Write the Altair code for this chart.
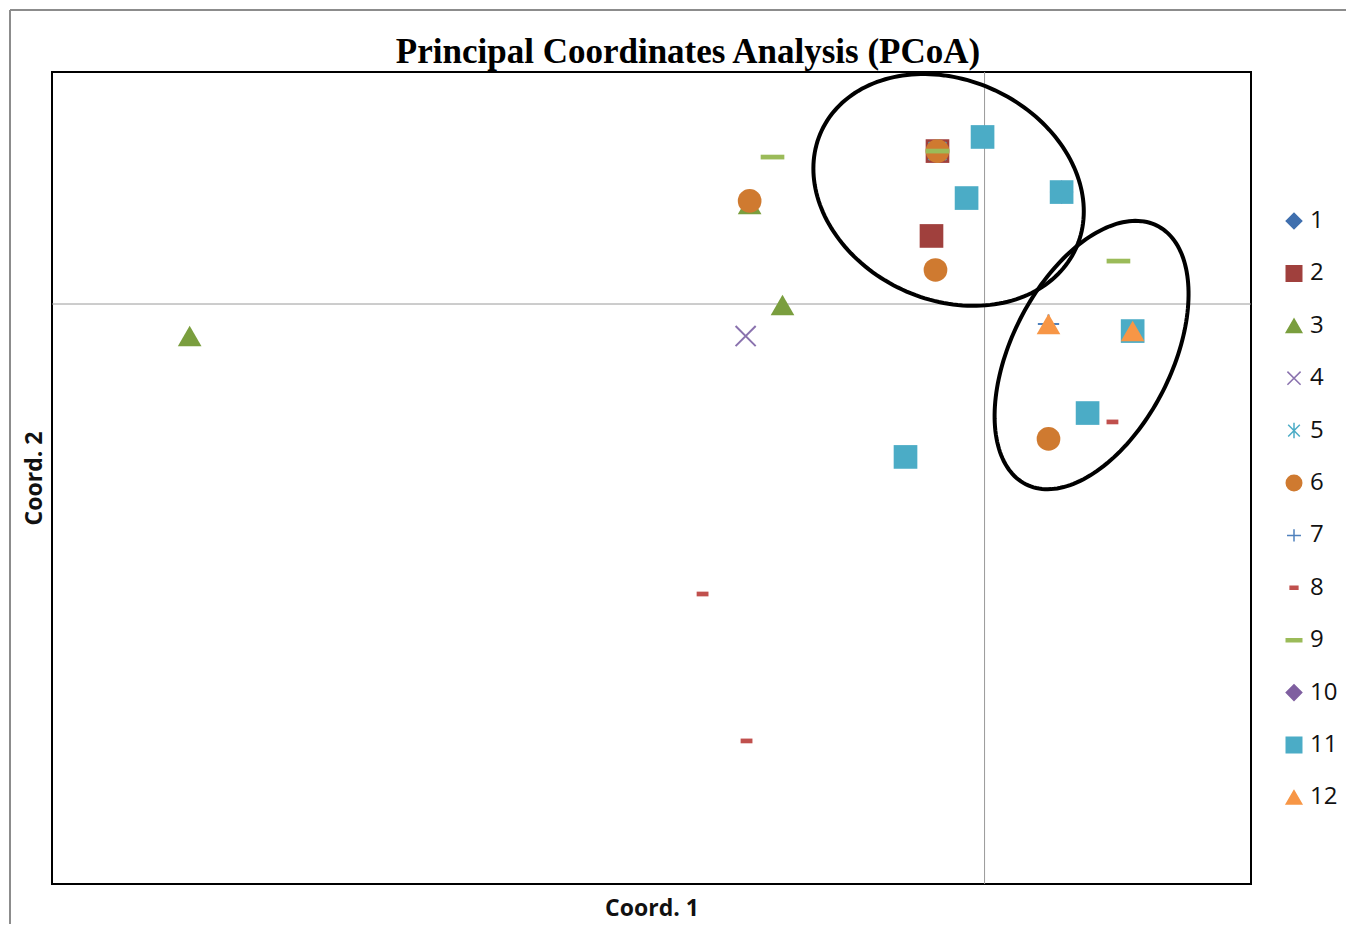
import altair as alt
import pandas as pd
import numpy as np

# ---------------- data ----------------
series_names = ["1", "2", "3", "4", "5", "6", "7", "8", "9", "10", "11", "12"]
series_colors = ["#3F6FAE", "#A0403D", "#7A9E3E", "#8A72AE", "#4BACC6", "#CF7A30",
                 "#4F81BD", "#C0504D", "#9BBB59", "#7F5FA0", "#4BACC6", "#F79646"]
series_shapes = [
    "diamond",
    "square",
    "triangle-up",
    "M-0.85,-0.85L0.85,0.85M-0.85,0.85L0.85,-0.85",
    "M-0.75,-0.75L0.75,0.75M-0.75,0.75L0.75,-0.75M0,-1V1",
    "circle",
    "M-0.9,0H0.9M0,-0.8V0.8",
    "M-0.5,-0.2H0.5V0.2H-0.5Z",
    "M-1,-0.2H1V0.2H-1Z",
    "diamond",
    "square",
    "triangle-up",
]
series_line_width = [0, 0, 0, 2, 2, 0, 2, 0, 0, 0, 0, 0]

point_series = ["1",
                "2", "2",
                "3", "3", "3",
                "4",
                "5",
                "6", "6", "6", "6",
                "7",
                "8", "8", "8",
                "9", "9", "9",
                "10",
                "11", "11", "11", "11", "11", "11",
                "12", "12"]
coord1 = [-0.0212,
          -0.0212, -0.0239,
          -0.3580, -0.0910, -0.1058,
          -0.1076,
          -0.0212,
          -0.0212, -0.1058, -0.0221, 0.0288,
          0.0288,
          -0.1270, -0.1072, 0.0576,
          -0.0955, -0.0212, 0.0603,
          0.0347,
          -0.0009, -0.0081, 0.0347, 0.0667, 0.0464, -0.0356,
          0.0288, 0.0667]
coord2 = [0.0791,
          0.0791, 0.0352,
          -0.0166, -0.0005, 0.0517,
          -0.0166,
          0.0791,
          0.0791, 0.0533, 0.0176, -0.0698,
          -0.0103,
          -0.1500, -0.2260, -0.0610,
          0.0760, 0.0791, 0.0222,
          0.0579,
          0.0864, 0.0548, 0.0579, -0.0140, -0.0564, -0.0791,
          -0.0103, -0.0140]

chart_title = "Principal Coordinates  Analysis (PCoA)"

# ellipses drawn on the chart (centre, semi-axes in Coord.1 units, rotation)
ellipse_cx = [-0.0162, 0.0482]
ellipse_cy = [0.0590, -0.0264]
ellipse_a = [0.0631, 0.0653]
ellipse_b = [0.0495, 0.0360]
ellipse_angle = [-25, 63]

x_domain = [-0.42, 0.12]
y_domain = [-0.30, 0.12]

W, H = 1199, 812
px_x = W / (x_domain[1] - x_domain[0])
px_y = H / (y_domain[1] - y_domain[0])

# ---------------- tables ----------------
lw_map = dict(zip(series_names, series_line_width))
pts = pd.DataFrame({"series": point_series, "x": coord1, "y": coord2})
pts["sw"] = pts["series"].map(lw_map)
pts["ord"] = pts["series"].map({s: i for i, s in enumerate(series_names)})

rows = []
t = np.linspace(0, 2 * np.pi, 181)
for i in range(len(ellipse_cx)):
    th = np.radians(ellipse_angle[i])
    u = ellipse_a[i] * np.cos(t)
    v = ellipse_b[i] * np.sin(t)
    X = u * np.cos(th) - v * np.sin(th)
    Y = (u * np.sin(th) + v * np.cos(th)) * px_x / px_y
    for k in range(len(t)):
        rows.append({"eid": i, "k": k, "x": ellipse_cx[i] + X[k], "y": ellipse_cy[i] + Y[k]})
ell = pd.DataFrame(rows)

one = pd.DataFrame({"z": [0], "label": [chart_title]})

xscale = alt.Scale(domain=x_domain, nice=False, zero=False)
yscale = alt.Scale(domain=y_domain, nice=False, zero=False)

xaxis = alt.Axis(labels=False, ticks=False, domain=False, grid=False, title="Coord. 1",
                 titleFont="Open Sans", titleFontSize=23, titleFontWeight="bold",
                 titleColor="#111111", titlePadding=13)
yaxis = alt.Axis(labels=False, ticks=False, domain=False, grid=False, title="Coord. 2",
                 titleFont="Open Sans", titleFontSize=23, titleFontWeight="bold",
                 titleColor="#111111", titlePadding=6)

leg = alt.Legend(title=None, orient="none", legendX=1230, legendY=137, padding=0,
                 rowPadding=28.4, symbolSize=240, symbolStrokeWidth=1.5,
                 labelFont="Open Sans", labelFontSize=24, labelColor="#111111",
                 labelOffset=4, symbolLimit=20)

zero_v = alt.Chart(one).mark_rule(color="#9a9a9a", strokeWidth=1).encode(
    x=alt.X("z:Q", scale=xscale, axis=xaxis))
zero_h = alt.Chart(one).mark_rule(color="#9a9a9a", strokeWidth=1).encode(
    y=alt.Y("z:Q", scale=yscale, axis=yaxis))

points = alt.Chart(pts).mark_point(filled=True, size=560, opacity=1).encode(
    x=alt.X("x:Q", scale=xscale, axis=xaxis),
    y=alt.Y("y:Q", scale=yscale, axis=yaxis),
    fill=alt.Fill("series:N", sort=series_names,
                  scale=alt.Scale(domain=series_names, range=series_colors), legend=leg),
    stroke=alt.Stroke("series:N", sort=series_names,
                      scale=alt.Scale(domain=series_names, range=series_colors), legend=leg),
    shape=alt.Shape("series:N", sort=series_names,
                    scale=alt.Scale(domain=series_names, range=series_shapes), legend=leg),
    strokeWidth=alt.StrokeWidth("sw:Q", scale=None, legend=None),
    order=alt.Order("ord:Q"),
)

ellipses = alt.Chart(ell).mark_line(color="black", strokeWidth=4).encode(
    x=alt.X("x:Q", scale=xscale, axis=xaxis),
    y=alt.Y("y:Q", scale=yscale, axis=yaxis),
    detail="eid:N",
    order="k:Q",
)

frame_left = alt.Chart(one).mark_rule(color="#8c8c8c", strokeWidth=2).encode(
    x=alt.value(-42), y=alt.value(-62), y2=alt.value(880))
frame_top = alt.Chart(one).mark_rule(color="#8c8c8c", strokeWidth=2).encode(
    x=alt.value(-42), x2=alt.value(1300), y=alt.value(-62))

title_text = alt.Chart(one).mark_text(
    font="Liberation Serif", fontSize=35, fontWeight="bold", color="black",
    align="center", baseline="alphabetic").encode(
    text="label:N", x=alt.value(636), y=alt.value(-9))

chart = alt.layer(zero_v, zero_h, points, ellipses, frame_left, frame_top, title_text).properties(
    width=W, height=H,
    autosize=alt.AutoSizeParams(type="none"),
    padding={"left": 44, "top": 64, "right": 95, "bottom": 40},
    background="white",
).configure_view(stroke="black", strokeWidth=2)

chart.save("out.html", embed_options={"renderer": "svg", "actions": False})
